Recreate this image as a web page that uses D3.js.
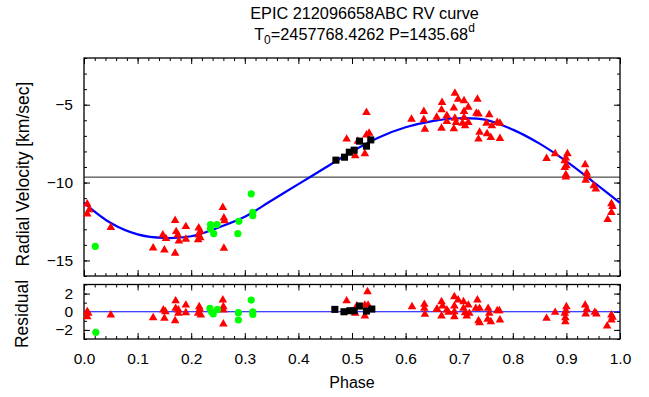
<!DOCTYPE html>
<html>
<head>
<meta charset="utf-8">
<script src="https://cdn.jsdelivr.net/npm/d3@7"></script>
<style>
  body { margin: 0; background: #fff; }
  text { font-family: "Liberation Sans", Arial, sans-serif; }
</style>
</head>
<body>
<div id="chart"></div>
<script>
var width = 649;
var height = 397;

// model curve (phase, km/s)
var modelCurve = [
  [0.00, -11.3], [0.05, -12.6], [0.10, -13.33], [0.15, -13.56], [0.20, -13.45],
  [0.25, -12.9], [0.30, -12.2], [0.35, -11.15], [0.40, -10.1], [0.45, -9.05],
  [0.50, -8.0], [0.55, -7.1], [0.60, -6.45], [0.65, -6.05], [0.70, -5.87],
  [0.75, -5.97], [0.80, -6.6], [0.85, -7.5], [0.90, -8.64], [0.95, -9.95], [1.00, -11.3]
];
var gammaVel = -9.65;

var rvTri = [
  [0.006, -11.38], [0.010, -11.74], [0.006, -12.02], [0.050, -12.88],
  [0.129, -14.2], [0.150, -14.33], [0.170, -14.54], [0.147, -13.37], [0.153, -13.6],
  [0.170, -12.43], [0.172, -13.15], [0.175, -13.37], [0.177, -13.75], [0.190, -12.83],
  [0.190, -13.64], [0.214, -12.92], [0.217, -13.13], [0.214, -13.37], [0.213, -13.67],
  [0.217, -13.55], [0.259, -11.6], [0.261, -12.28], [0.262, -12.45], [0.261, -14.22],
  [0.527, -5.5], [0.490, -7.21], [0.506, -8.28], [0.524, -8.15], [0.527, -6.94],
  [0.532, -6.83], [0.511, -7.35],
  [0.611, -5.93], [0.634, -5.44], [0.634, -5.97], [0.636, -6.57], [0.668, -4.86],
  [0.667, -5.33], [0.658, -5.8], [0.677, -5.7], [0.667, -6.51],
  [0.692, -4.26], [0.698, -4.65], [0.709, -4.74], [0.734, -4.65], [0.690, -5.22],
  [0.717, -5.16], [0.709, -5.44], [0.732, -5.55], [0.736, -5.6], [0.756, -5.65],
  [0.692, -5.87], [0.709, -5.83], [0.677, -6.08], [0.694, -6.14], [0.706, -6.19],
  [0.717, -6.14], [0.711, -6.36], [0.690, -6.55], [0.751, -6.19], [0.761, -6.36],
  [0.771, -6.14], [0.776, -6.19], [0.738, -6.77], [0.752, -6.87], [0.736, -7.21],
  [0.759, -7.1], [0.776, -7.17],
  [0.863, -8.45], [0.879, -8.15], [0.902, -8.15], [0.899, -8.43], [0.897, -8.6],
  [0.900, -8.92], [0.897, -9.03], [0.899, -9.5], [0.899, -9.65],
  [0.935, -8.86], [0.938, -9.39], [0.939, -9.6], [0.936, -9.86], [0.951, -10.2],
  [0.955, -10.42], [0.984, -11.36], [0.986, -11.53], [0.984, -11.92], [0.977, -12.38]
];
var rvGreen = [
  [0.021, -14.1], [0.236, -12.7], [0.236, -12.98], [0.242, -13.28], [0.248, -12.7],
  [0.289, -12.49], [0.287, -13.28], [0.312, -10.72], [0.315, -11.92], [0.315, -12.13]
];
var rvBlack = [
  [0.470, -8.56], [0.486, -8.37], [0.495, -8.05], [0.504, -7.92], [0.514, -7.34],
  [0.527, -7.66], [0.535, -7.26]
];

var resTri = [
  [0.006, 0], [0.008, -0.18], [0.006, -0.55], [0.050, -0.36],
  [0.129, -0.66], [0.148, 0.19], [0.152, 0], [0.150, -0.73], [0.171, 1.2], [0.171, 0.37],
  [0.176, 0.19], [0.176, -0.18], [0.170, -0.99], [0.190, 0.73], [0.190, -0.1],
  [0.215, 0.55], [0.216, 0.26], [0.213, -0.18], [0.218, -0.36],
  [0.259, 1.29], [0.260, 0.55], [0.260, 0.19], [0.260, -1.35],
  [0.490, 1.2], [0.529, 2.2], [0.524, 0.73], [0.530, 0.73], [0.509, 0.63], [0.506, -0.18],
  [0.524, -0.47],
  [0.612, 0.55], [0.635, 0.81], [0.635, 0.37], [0.636, -0.29], [0.658, 0.26],
  [0.659, 0.26], [0.667, 1.1], [0.669, 0.63], [0.667, -0.47], [0.677, 0.19], [0.680, -0.07],
  [0.691, 1.65], [0.698, 1.29], [0.691, 0.63], [0.691, 0], [0.691, -0.55],
  [0.708, 1.1], [0.708, 0.37], [0.711, -0.1], [0.714, -0.47], [0.717, 0.73], [0.719, -0.18],
  [0.734, 1.29], [0.731, 0.37], [0.738, 0.37], [0.736, -0.99], [0.738, -1.2],
  [0.754, 0.37], [0.756, -0.18], [0.753, -0.84], [0.759, -1.1],
  [0.771, 0.11], [0.775, 0.11], [0.776, -0.91],
  [0.863, -0.73], [0.879, -0.07], [0.900, 0.55], [0.899, 0.11], [0.897, -0.18],
  [0.898, -0.66], [0.898, -1.1], [0.935, 0.73], [0.938, 0.26], [0.936, -0.25],
  [0.953, -0.07], [0.956, -0.25], [0.984, -0.36], [0.986, -0.62], [0.984, -0.91],
  [0.976, -1.57]
];
var resGreen = [
  [0.022, -2.27], [0.235, 0.37], [0.238, 0], [0.241, -0.25], [0.249, 0.26],
  [0.288, -0.1], [0.288, -0.91], [0.312, 1.29], [0.315, 0], [0.315, -0.29]
];
var resBlack = [
  [0.468, 0.26], [0.485, 0], [0.496, 0.11], [0.504, 0.11], [0.514, 0.63],
  [0.527, 0.08], [0.537, 0.3]
];

var phaseTicks = [0, 0.1, 0.2, 0.3, 0.4, 0.5, 0.6, 0.7, 0.8, 0.9, 1.0];
var rvTicks = [-5, -10, -15];
var resTicks = [2, 0, -2];

var svg = d3.select("#chart").append("svg")
  .attr("width", width)
  .attr("height", height);

let x = d3.scaleLinear().domain([0, 1]).range([84, 620]);
let yTop = d3.scaleLinear().domain([-16, -2]).range([276, 58]);
let yRes = d3.scaleLinear().domain([-3, 3]).range([339, 284.5]);

let minorX = d3.range(0, 51).map(i => i / 50);
let minorRv = d3.range(-16, -1);
let minorRes = d3.range(-3, 4);

function frame(yScale, majorY, minorY, showX, fmtY) {
  let g = svg.append("g");
  let top = yScale.range()[1], bot = yScale.range()[0];

  // inward ticks: left / right
  g.append("g").attr("transform", "translate(84,0)")
    .call(d3.axisLeft(yScale).tickValues(minorY).tickSize(-3).tickFormat(""));
  g.append("g").attr("transform", "translate(620,0)")
    .call(d3.axisRight(yScale).tickValues(minorY).tickSize(-3).tickFormat(""));
  g.append("g").attr("transform", "translate(84,0)")
    .call(d3.axisLeft(yScale).tickValues(majorY).tickSize(-6).tickPadding(11).tickFormat(fmtY));
  g.append("g").attr("transform", "translate(620,0)")
    .call(d3.axisRight(yScale).tickValues(majorY).tickSize(-6).tickFormat(""));

  // inward ticks: bottom / top
  g.append("g").attr("transform", "translate(0," + bot + ")")
    .call(d3.axisBottom(x).tickValues(minorX).tickSize(-3).tickFormat(""));
  g.append("g").attr("transform", "translate(0," + top + ")")
    .call(d3.axisTop(x).tickValues(minorX).tickSize(-3).tickFormat(""));
  g.append("g").attr("transform", "translate(0," + bot + ")")
    .call(d3.axisBottom(x).tickValues(phaseTicks).tickSize(-6).tickPadding(14)
      .tickFormat(showX ? d3.format(".1f") : ""));
  g.append("g").attr("transform", "translate(0," + top + ")")
    .call(d3.axisTop(x).tickValues(phaseTicks).tickSize(-6).tickFormat(""));

  g.selectAll(".domain").remove();
  g.selectAll(".tick line").attr("stroke", "#000").attr("stroke-width", 1);
  g.selectAll(".tick text").attr("font-size", 15.5).attr("fill", "#000")
    .style("font-family", "Liberation Sans, Arial, sans-serif");

  g.append("rect")
    .attr("x", 84).attr("y", top)
    .attr("width", 536).attr("height", bot - top)
    .attr("fill", "none").attr("stroke", "#000").attr("stroke-width", 1.3);
}

frame(yTop, rvTicks, minorRv, false, d3.format("d"));
frame(yRes, resTicks, minorRes, true, d3.format("d"));

// systemic velocity line
svg.append("line")
  .attr("x1", x(0)).attr("x2", x(1))
  .attr("y1", yTop(gammaVel)).attr("y2", yTop(gammaVel))
  .attr("stroke", "#222").attr("stroke-width", 1);

// residual zero line
svg.append("line")
  .attr("x1", x(0)).attr("x2", x(1))
  .attr("y1", yRes(0)).attr("y2", yRes(0))
  .attr("stroke", "#0000ff").attr("stroke-width", 1);

// orbit curve
let line = d3.line()
  .x(d => x(d[0]))
  .y(d => yTop(d[1]))
  .curve(d3.curveCatmullRom);

svg.append("path")
  .datum(modelCurve)
  .attr("d", line)
  .attr("fill", "none")
  .attr("stroke", "#0000ff")
  .attr("stroke-width", 2.2);

let tri = d3.symbol().type(d3.symbolTriangle).size(32);
let sq = d3.symbol().type(d3.symbolSquare).size(50);

function points(data, yScale) {
  let g = svg.append("g");
  g.selectAll("path.t")
    .data(data.tri)
    .enter()
    .append("path")
    .attr("class", "t")
    .attr("d", tri)
    .attr("transform", d => "translate(" + x(d[0]) + "," + yScale(d[1]) + ")")
    .attr("fill", "#ff0000");
  g.selectAll("circle")
    .data(data.green)
    .enter()
    .append("circle")
    .attr("cx", d => x(d[0]))
    .attr("cy", d => yScale(d[1]))
    .attr("r", 3.6)
    .attr("fill", "#00ff00");
  g.selectAll("path.s")
    .data(data.black)
    .enter()
    .append("path")
    .attr("class", "s")
    .attr("d", sq)
    .attr("transform", d => "translate(" + x(d[0]) + "," + yScale(d[1]) + ")")
    .attr("fill", "#000");
}

points({ tri: rvTri, green: rvGreen, black: rvBlack }, yTop);
points({ tri: resTri, green: resGreen, black: resBlack }, yRes);

// titles and labels
let title = svg.append("g").attr("font-size", 16.3).attr("text-anchor", "middle");
title.append("text").attr("x", 364.5).attr("y", 19).text("EPIC 212096658ABC RV curve");
let t2 = title.append("text").attr("x", 364.5).attr("y", 40);
t2.append("tspan").text("T");
t2.append("tspan").attr("font-size", 12).attr("dy", 4).text("0");
t2.append("tspan").attr("dy", -4).text("=2457768.4262 P=1435.68");
t2.append("tspan").attr("font-size", 12).attr("dy", -8).text("d");

svg.append("text")
  .attr("transform", "translate(29,174) rotate(-90)")
  .attr("text-anchor", "middle")
  .attr("font-size", 17.5)
  .text("Radial Velocity [km/sec]");

svg.append("text")
  .attr("transform", "translate(28,314) rotate(-90)")
  .attr("text-anchor", "middle")
  .attr("font-size", 17.5)
  .text("Residual");

svg.append("text")
  .attr("x", 352)
  .attr("y", 388)
  .attr("text-anchor", "middle")
  .attr("font-size", 16)
  .text("Phase");
</script>
</body>
</html>
